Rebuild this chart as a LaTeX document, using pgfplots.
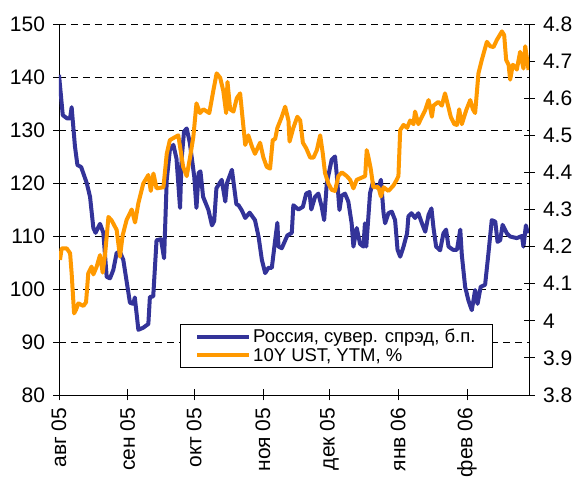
\documentclass[border=0pt]{standalone}
\usepackage{pgfplots}
\pgfplotsset{compat=1.18}
\usepackage{fontspec}
\setmainfont{Liberation Sans}
\definecolor{rusblue}{HTML}{333399}
\definecolor{ustorange}{HTML}{FF9900}
\begin{document}
\begin{tikzpicture}
\path[use as bounding box] (-59pt,-86pt) rectangle (519pt,395pt);
\begin{axis}[
  at={(0,0)}, anchor=south west,
  scale only axis, width=470pt, height=371pt,
  xmin=0, xmax=212, ymin=80, ymax=150,
  axis x line*=bottom, axis y line*=left,
  axis line style={line width=0.8pt, -},
  xtick={0,31,61,92,122,153,184},
  xticklabels={авг 05,сен 05,окт 05,ноя 05,дек 05,янв 06,фев 06},
  x tick label style={rotate=90, anchor=east, inner xsep=7pt, font=\fontsize{21}{24}\selectfont},
  ytick={80,90,...,150},
  y tick label style={xshift=-5pt, font=\fontsize{21}{24}\selectfont},
  /pgf/number format/assume math mode=true,
  tick style={black, line width=0.8pt},
  major tick length=11pt,
  ytick align=center, xtick align=center,
  ymajorgrids,
  grid style={black, line width=0.8pt, dash pattern=on 7pt off 5pt},
  legend style={at={(0.923,0.073)}, anchor=south east, draw=black, fill=white,
    line width=0.8pt, font=\fontsize{18.5}{20}\selectfont, row sep=0pt,
    inner xsep=15pt, inner ysep=3pt},
  legend cell align=left,
  legend image code/.code={\draw[#1, line width=4pt] (0pt,0pt) -- (52pt,0pt);},
]
\addplot[rusblue, line width=4pt, line join=round] coordinates {
(0,140.4)(1.7,132.8)(3.6,132.2)(5,132.2)(5.7,134.3)(7.2,126.9)(8.3,123.4)(10,123)
(12.5,120)(14,117.4)(15.5,111.5)(16.5,110.6)(18.5,112.3)(20,110.6)(21.5,102.3)
(23,102)(24.5,103.6)(26,106.8)(27.5,107)(29,105.5)(32,97.4)(33.5,97.2)(34.2,98.4)
(35.8,92.3)(38,92.7)(40.3,93.4)(41,98.5)(42.5,98.6)(44,109.2)(46,109.4)(47.4,105.8)
(48.6,120.6)(50,126.2)(51.6,127.2)(53,124.6)(54.6,115.3)(55.3,124.5)(56.4,129.7)
(57.6,130.3)(59,127.6)(61,121.2)(62,115.3)(63,121.9)(63.8,122.2)(65,117.4)
(67.4,114.9)(69,112)(70,112.8)(71,119)(73.4,120.6)(75,116.5)(75.8,120)(78,122.5)
(80,116)(81,115.8)(82.5,114.8)(84,113.4)(86,114.4)(88.4,113)(90,109.9)(91.5,105.5)
(93,103)(94.5,104)(96,104)(97.5,109.2)(98.5,112.5)(99,108)(100.5,107.7)(103,110.1)
(105,110.6)(105.7,115.8)(108,115)(110,115.5)(111.5,118)(113,118.3)(113.8,115)
(115.5,117.4)(117,118)(118.5,115.5)(119.6,113)(120.8,120)(123,124.4)(124.5,125)
(125.3,121.5)(126.5,114.9)(127.5,117.6)(129,118)(130.5,116.5)(132,112.4)(132.8,108)
(134.3,111.5)(135.8,108.5)(137.3,108)(138,112.4)(138.6,108)(140.3,118.1)(141.5,120)
(142.6,119.5)(144.1,119)(145.2,120.6)(146.4,114.3)(147.1,112.4)(148.6,114.3)
(150.1,114.6)(151.6,113)(152.7,107.4)(153.9,106.1)(155.4,108)(157,110.5)(157.6,113.7)
(159,114.3)(160.6,113.4)(162.1,114.3)(163.7,112.4)(165.2,110.8)(166.7,114)(168,115.2)
(168.9,111.6)(170.1,108)(171.9,107.3)(173.4,110.5)(174.6,111.2)(175.7,108)(177.7,107.4)
(179.5,107.4)(181,111.2)(181.7,106.4)(183.2,100.4)(184.7,97.8)(186.2,96)(187.7,99.8)
(188.8,97.2)(190.2,100.4)(192.2,100.8)(193.7,106.7)(195.2,113)(196.8,112.7)
(197.8,108.9)(199,109.2)(200.1,112.1)(202,110.5)(203.5,109.9)(206.5,109.6)
(208.8,110)(209.5,108)(210.6,112)(211.5,110.5)
};
\addlegendentry{Россия, сувер. спрэд, б.п.}
\addlegendimage{ustorange}
\addlegendentry{10Y UST, YTM, \%}
\end{axis}
\begin{axis}[
  at={(0,0)}, anchor=south west,
  scale only axis, width=470pt, height=371pt,
  xmin=0, xmax=212, ymin=3.8, ymax=4.8,
  axis x line=none, axis y line*=right,
  axis line style={line width=0.8pt, -},
  ytick={3.8,3.9,...,4.81},
  y tick label style={xshift=5pt, font=\fontsize{21}{24}\selectfont},
  /pgf/number format/assume math mode=true,
  tick style={black, line width=0.8pt},
  major tick length=11pt,
  ytick align=center,
]
\addplot[ustorange, line width=4pt, line join=round] coordinates {
(0.45,4.164)(1.2,4.195)(3.5,4.195)(5,4.182)(5.7,4.128)(6.8,4.02)(7.7,4.03)(8.7,4.047)
(11,4.04)(12.2,4.05)(13.2,4.128)(14.7,4.146)(15.5,4.125)(17,4.146)(18.5,4.177)
(19.7,4.13)(20.8,4.18)(22.3,4.28)(23.8,4.27)(26,4.245)(27.5,4.173)(28.7,4.23)
(30.5,4.272)(32.8,4.30)(34.3,4.265)(35.8,4.317)(38,4.37)(40.3,4.393)(41.4,4.35)
(42.6,4.397)(44,4.357)(47.1,4.36)(48.6,4.45)(50,4.487)(53.8,4.50)(56,4.415)
(57.6,4.39)(59.1,4.44)(60.6,4.496)(62,4.586)(63.6,4.56)(65.1,4.57)(67.8,4.56)
(69.6,4.62)(71.1,4.667)(72.7,4.655)(74.1,4.62)(75.4,4.56)(76,4.644)(77.2,4.57)
(78.7,4.564)(80.2,4.60)(81.7,4.613)(82.9,4.54)(84,4.474)(85.4,4.50)(87,4.47)
(88.4,4.45)(90.7,4.48)(92.2,4.44)(93.7,4.415)(95.2,4.41)(96.4,4.487)(97.5,4.49)
(98.5,4.52)(100.5,4.55)(102,4.577)(103.5,4.54)(104,4.483)(105.7,4.52)(107.5,4.55)
(108.8,4.54)(110,4.48)(111.5,4.465)(113.3,4.44)(114.8,4.44)(116.3,4.46)(117.8,4.50)
(119,4.45)(120,4.398)(121.5,4.37)(123,4.353)(124.5,4.35)(126,4.39)(127.6,4.40)
(129.8,4.39)(131.3,4.38)(132.8,4.357)(134.3,4.38)(136.6,4.386)(138.1,4.39)
(138.8,4.46)(139.6,4.44)(140.6,4.41)(141.8,4.36)(144.1,4.36)(145.2,4.335)(146.4,4.36)
(148.6,4.35)(150.9,4.365)(152.3,4.38)(153.1,4.39)(153.9,4.514)(155.4,4.528)(157,4.52)
(158.4,4.54)(159.9,4.53)(160.6,4.564)(162.1,4.53)(163.7,4.55)(165.2,4.568)(166.7,4.595)
(168.2,4.55)(168.9,4.58)(171.1,4.59)(172.7,4.58)(174.1,4.613)(175.7,4.575)(176.7,4.55)
(178.3,4.53)(179.5,4.528)(180.5,4.57)(181.7,4.53)(183.7,4.568)(185.5,4.595)(186.7,4.57)
(187.7,4.56)(189.2,4.667)(190.7,4.703)(193,4.752)(194.5,4.74)(196,4.738)(197.5,4.757)
(199.8,4.78)(200.8,4.77)(201.7,4.703)(202.8,4.69)(203.5,4.65)(204.7,4.69)(205.8,4.685)
(206.5,4.677)(208,4.725)(208.8,4.70)(209.5,4.68)(210.3,4.74)(211.8,4.676)
};
\end{axis}
\end{tikzpicture}
\end{document}
